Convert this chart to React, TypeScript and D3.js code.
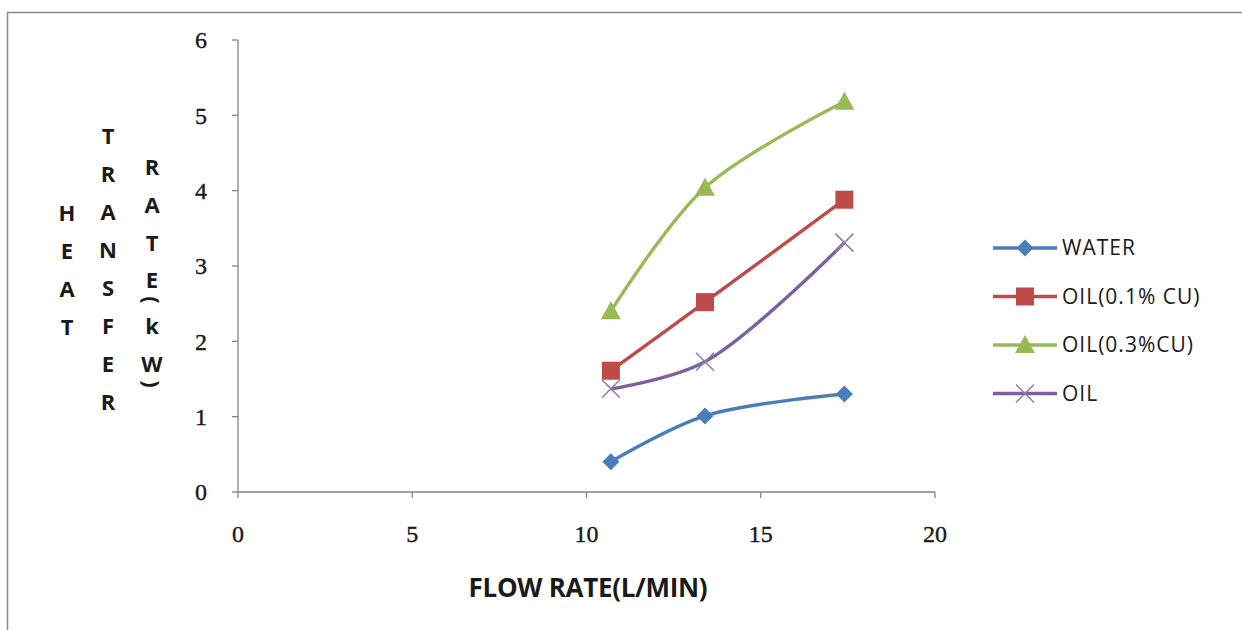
import { useMemo } from 'react';
import * as d3 from 'd3';

// flow rate (L/min) for each measurement
const flowRates = [10.7, 13.4, 17.4];

// heat transfer rate (kW)
const water = [0.4, 1.01, 1.3];
const oilCu01 = [1.61, 2.52, 3.88];
const oilCu03 = [2.4, 4.04, 5.18];
const oil = [1.37, 1.73, 3.31];

const seriesNames = ['WATER', 'OIL(0.1% CU)', 'OIL(0.3%CU)', 'OIL'];
const seriesColors = ['#4a7ebb', '#be4b48', '#98b954', '#7d60a0'];
const markerTypes = ['diamond', 'square', 'triangle', 'cross'];

const xTicks = [0, 5, 10, 15, 20];
const yTicks = [0, 1, 2, 3, 4, 5, 6];

const yTitleCols = [
	{ x: 67, top: 213, chars: ['H', 'E', 'A', 'T'] },
	{ x: 108, top: 136, chars: ['T', 'R', 'A', 'N', 'S', 'F', 'E', 'R'] },
];

function Marker({ type, color, x, y }) {
	if (type === 'diamond') {
		const s = 8.5;
		return (
			<path
				d={`M${x},${y - s}L${x + s},${y}L${x},${y + s}L${x - s},${y}Z`}
				fill={color}
			/>
		);
	}
	if (type === 'square') {
		return <rect x={x - 9} y={y - 9} width={18} height={18} fill={color} />;
	}
	if (type === 'triangle') {
		return (
			<path
				d={`M${x},${y - 10}L${x + 10},${y + 8}L${x - 10},${y + 8}Z`}
				fill={color}
			/>
		);
	}
	return (
		<path
			d={`M${x - 9},${y - 9}L${x + 9},${y + 9}M${x - 9},${y + 9}L${x + 9},${y - 9}`}
			stroke='#8a7fa6'
			strokeWidth={1.5}
		/>
	);
}

export default function App() {
	const width = 1242;
	const height = 630;
	const margin = { left: 238, right: 307, top: 40, bottom: 138 };

	const x = d3
		.scaleLinear()
		.domain([0, 20])
		.range([margin.left, width - margin.right]);
	const y = d3
		.scaleLinear()
		.domain([0, 6])
		.range([height - margin.bottom, margin.top]);

	const series = useMemo(
		() =>
			[water, oilCu01, oilCu03, oil].map((vals, i) => ({
				name: seriesNames[i],
				color: seriesColors[i],
				marker: markerTypes[i],
				points: vals.map((v, j) => [flowRates[j], v]),
			})),
		[]
	);

	const line = d3
		.line()
		.x((d) => x(d[0]))
		.y((d) => y(d[1]))
		.curve(d3.curveCatmullRom.alpha(0.5));

	const axisColor = '#858585';
	const tickFont = '"Liberation Serif", serif';
	const labelFont = '"Open Sans", "Liberation Sans", sans-serif';
	const ink = '#1a1a1a';

	return (
		<svg
			width={width}
			height={height}
			style={{ position: 'absolute', left: 0, top: 0, background: '#fff' }}>
			{/* chart border */}
			<rect
				x={7.5}
				y={12.5}
				width={1260}
				height={640}
				fill='none'
				stroke='#8c8c8c'
				strokeWidth={1.5}
			/>

			{/* y axis */}
			<line
				x1={x(0)}
				x2={x(0)}
				y1={y(0)}
				y2={y(6)}
				stroke={axisColor}
				strokeWidth={1.3}
			/>
			{yTicks.map((t) => (
				<g key={t}>
					<line
						x1={x(0) - 6}
						x2={x(0)}
						y1={y(t)}
						y2={y(t)}
						stroke={axisColor}
						strokeWidth={1.3}
					/>
					<text
						x={x(0) - 37}
						y={y(t)}
						dy='0.35em'
						textAnchor='middle'
						fontFamily={tickFont}
						fontSize={24}
						stroke={ink}
						strokeWidth={0.4}
						fill={ink}>
						{t}
					</text>
				</g>
			))}

			{/* x axis */}
			<line
				x1={x(0)}
				x2={x(20)}
				y1={y(0)}
				y2={y(0)}
				stroke={axisColor}
				strokeWidth={1.3}
			/>
			{xTicks.map((t) => (
				<g key={t}>
					<line
						x1={x(t)}
						x2={x(t)}
						y1={y(0)}
						y2={y(0) + 6}
						stroke={axisColor}
						strokeWidth={1.3}
					/>
					<text
						x={x(t)}
						y={y(0) + 50}
						textAnchor='middle'
						fontFamily={tickFont}
						fontSize={24}
						stroke={ink}
						strokeWidth={0.4}
						fill={ink}>
						{t}
					</text>
				</g>
			))}

			{/* x axis title */}
			<text
				x={588}
				y={597}
				textAnchor='middle'
				fontFamily={labelFont}
				fontWeight={700}
				fontSize={26}
				letterSpacing={-0.3}
				fill={ink}>
				FLOW RATE(L/MIN)
			</text>

			{/* y axis title, stacked letters */}
			{yTitleCols.map((col) =>
				col.chars.map((c, i) => (
					<text
						key={col.x + '-' + i}
						x={col.x}
						y={col.top + i * 38}
						dy='0.35em'
						textAnchor='middle'
						fontFamily={labelFont}
						fontWeight={700}
						fontSize={22}
						fill={ink}>
						{c}
					</text>
				))
			)}
			{[
				['R', 167],
				['A', 205],
				['T', 243],
				['E', 280],
				['(', 300],
				['k', 326],
				['W', 364],
				[')', 384],
			].map(([c, cy], i) =>
				c === '(' || c === ')' ? (
					<text
						key={'r' + i}
						transform={`translate(152,${cy}) rotate(90)`}
						dy='0.35em'
						textAnchor='middle'
						fontFamily={labelFont}
						fontWeight={700}
						fontSize={22}
						fill={ink}>
						{c}
					</text>
				) : (
					<text
						key={'r' + i}
						x={152}
						y={cy}
						dy='0.35em'
						textAnchor='middle'
						fontFamily={labelFont}
						fontWeight={700}
						fontSize={22}
						fill={ink}>
						{c}
					</text>
				)
			)}

			{/* series */}
			{series.map((s) => (
				<g key={s.name}>
					<path
						d={line(s.points)}
						fill='none'
						stroke={s.color}
						strokeWidth={3.4}
					/>
					{s.points.map((p, j) => (
						<Marker
							key={j}
							type={s.marker}
							color={s.color}
							x={x(p[0])}
							y={y(p[1])}
						/>
					))}
				</g>
			))}

			{/* legend */}
			{series.map((s, i) => {
				const ly = 248 + i * 48.5;
				return (
					<g key={s.name}>
						<line
							x1={993}
							x2={1057}
							y1={ly}
							y2={ly}
							stroke={s.color}
							strokeWidth={3.4}
						/>
						<Marker type={s.marker} color={s.color} x={1025} y={ly} />
						<text
							x={1062}
							y={ly}
							dy='0.35em'
							fontFamily={labelFont}
							fontWeight={500}
							fontSize={21}
							letterSpacing={1}
							fill={ink}>
							{s.name}
						</text>
					</g>
				);
			})}
		</svg>
	);
}
